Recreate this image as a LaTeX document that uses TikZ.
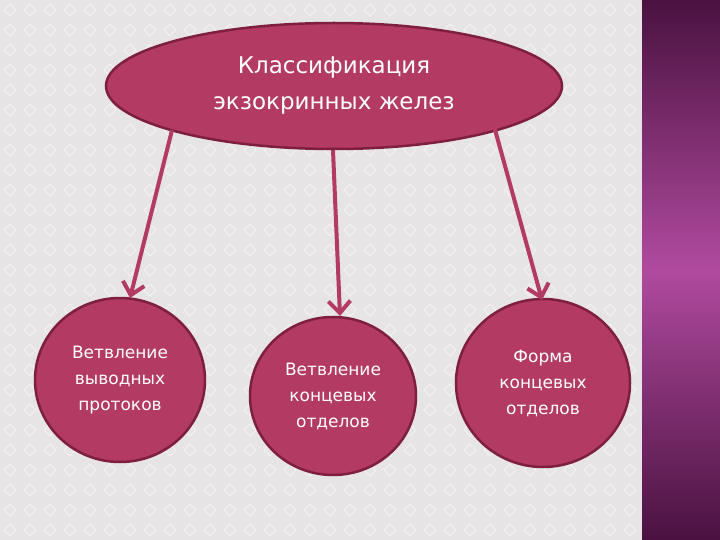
\documentclass[tikz,border=0pt]{standalone}
\usepackage{fontspec}
\setmainfont{DejaVu Sans}
\usetikzlibrary{arrows.meta,shadings,shapes.geometric}
\definecolor{bg}{HTML}{E6E4E4}
\definecolor{rose}{HTML}{B33A62}
\definecolor{roseD}{HTML}{7E1F40}
\definecolor{strip1}{HTML}{4A1240}
\definecolor{strip2}{HTML}{B04A9E}
\tikzset{
  blob/.style={draw=roseD, line width=2.5pt, fill=rose, text=white, align=center, font=\fontsize{17}{26}\selectfont},
  conn/.style={draw=rose, line width=4pt, -{Straight Barb[length=12pt,width=22pt,line width=4pt]}}
}
\begin{document}
\begin{tikzpicture}[x=1pt,y=-1pt]
\useasboundingbox (0,0) rectangle (720,540);
\fill[bg] (0,0) rectangle (642,540);
\foreach \i in {0,...,32}{\foreach \j in {0,...,27}{
  \draw[white!50!bg, line width=0.8pt] (\i*20+10,\j*20+4) -- (\i*20+16,\j*20+10) -- (\i*20+10,\j*20+16) -- (\i*20+4,\j*20+10) -- cycle;}}
\shade[top color=strip1, bottom color=strip1, middle color=strip2, shading angle=0] (642,0) rectangle (720,540);
\node[blob, ellipse, minimum width=456pt, minimum height=126pt, font=\fontsize{23}{36}\selectfont] (top) at (334,86) {Классификация\\экзокринных желез};
\node[blob, ellipse, minimum width=170pt, minimum height=164pt] (l) at (120,380) {Ветвление\\выводных\\протоков};
\node[blob, ellipse, minimum width=166pt, minimum height=158pt] (m) at (333,396) {Ветвление\\концевых\\отделов};
\node[blob, ellipse, minimum width=174pt, minimum height=168pt] (r) at (543,383) {Форма\\концевых\\отделов};
\coordinate (ta) at (172,130);\coordinate (tb) at (333,150);\coordinate (tc) at (494,126);
\coordinate (ea) at (130,298);\coordinate (eb) at (340,316);\coordinate (ec) at (542,300);
\draw[conn] (ta) -- (ea);
\draw[conn] (tb) -- (eb);
\draw[conn] (tc) -- (ec);
\end{tikzpicture}
\end{document}
